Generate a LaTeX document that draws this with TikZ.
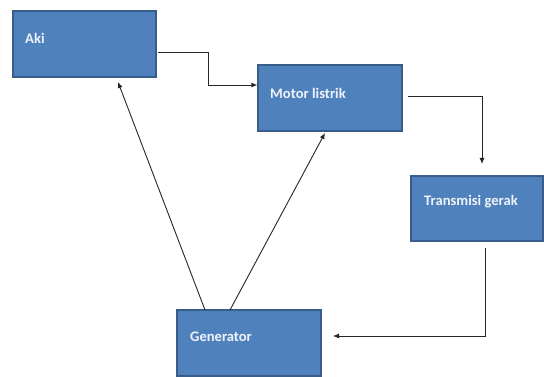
\documentclass[tikz,border=0pt]{standalone}
\usepackage{fontspec}
\setmainfont{Carlito}
\usetikzlibrary{arrows.meta}
\definecolor{boxfill}{HTML}{4F81BD}
\definecolor{boxline}{HTML}{385D8A}
\definecolor{lbltext}{HTML}{EEF3FA}
\begin{document}
\begin{tikzpicture}[x=1pt,y=-1pt,
  box/.style={draw=boxline,line width=1.2pt,fill=boxfill,rectangle,inner sep=0pt},
  lbl/.style={anchor=west,text=lbltext,font=\fontsize{14.6}{16}\selectfont\bfseries,inner sep=0pt},
  conn/.style={line width=0.9pt,draw=black!85,-{Latex[length=6pt,width=5pt]}}]
\fill[white] (0,0) rectangle (544,377);
\useasboundingbox (0,0) rectangle (544,377);
\node[box,minimum width=143pt,minimum height=66pt] (aki) at (84.5,44) {};
\node[box,minimum width=144pt,minimum height=66pt] (motor) at (330,98) {};
\node[box,minimum width=132pt,minimum height=65pt] (trans) at (477,208.5) {};
\node[box,minimum width=144pt,minimum height=66pt] (gen) at (249,343) {};
\node[lbl] (akiT) at (25,38.5) {Aki};
\node[lbl] (motorT) at (270,93) {Motor listrik};
\node[lbl] (transT) at (424,202) {Transmisi gerak};
\node[lbl] (genT) at (190,337) {Generator};
\coordinate (a1) at (158,52);
\coordinate (a2) at (208,52);
\coordinate (a3) at (208,85);
\draw[conn] (a1) -- (a2) -- (a3) -- (motor.west |- a3);
\coordinate (m1) at (408,96);
\coordinate (m2) at (482,96);
\coordinate (m3) at (482,164);
\draw[conn] (m1) -- (m2) -- (m3);
\coordinate (t1) at (485,248);
\coordinate (t2) at (485,336);
\coordinate (t3) at (333,336);
\draw[conn] (t1) -- (t2) -- (t3);
\coordinate (g1) at (205,310);
\coordinate (g2) at (230,310);
\coordinate (k1) at (118,82);
\coordinate (k2) at (325,133);
\draw[conn] (g1) -- (k1);
\draw[conn] (g2) -- (k2);
\end{tikzpicture}
\end{document}
